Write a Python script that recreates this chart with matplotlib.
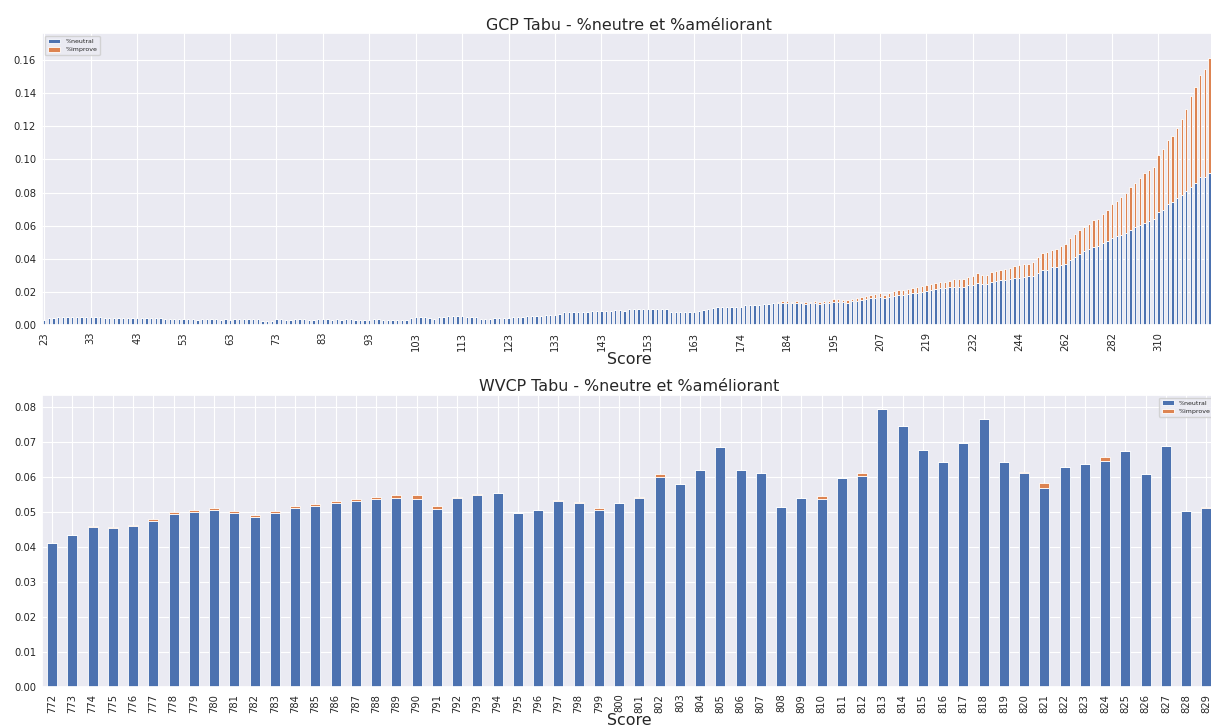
import matplotlib
matplotlib.use("Agg")
import matplotlib.pyplot as plt
import numpy as np
import seaborn as sns

# ---------------- GCP data ----------------
gcp_scores = (
    list(range(23, 164))
    + [165, 166, 167, 168, 169, 170, 171, 172, 173, 174]
    + [175, 176, 177, 178, 179, 180, 181, 182, 183, 184]
    + [185, 186, 187, 188, 189, 190, 192, 193, 194, 195]
    + [196, 197, 198, 199, 201, 202, 203, 204, 206, 207]
    + [208, 209, 210, 212, 213, 214, 215, 216, 218, 219]
    + [220, 221, 223, 224, 225, 227, 228, 229, 231, 232]
    + [233, 234, 235, 237, 238, 239, 240, 242, 243, 244]
    + [245, 247, 249, 250, 252, 254, 256, 258, 260, 262]
    + [264, 266, 268, 270, 272, 274, 276, 278, 280, 282]
    + [285, 288, 291, 294, 297, 300, 303, 305, 308, 310]
    + [313, 316, 320, 324, 328, 333, 338, 344, 350, 357, 365, 374]
)

gcp_neutral = [
    0.0028, 0.0040, 0.0045, 0.0047, 0.0048, 0.0050, 0.0049, 0.0047, 0.0047, 0.0046,
    0.0046, 0.0047, 0.0046, 0.0045, 0.0045, 0.0044, 0.0044, 0.0043, 0.0042, 0.0042,
    0.0042, 0.0043, 0.0042, 0.0041, 0.0040, 0.0041, 0.0039, 0.0039, 0.0038, 0.0036,
    0.0036, 0.0035, 0.0034, 0.0032, 0.0037, 0.0039, 0.0039, 0.0034, 0.0031, 0.0034,
    0.0028, 0.0034, 0.0039, 0.0039, 0.0037, 0.0037, 0.0037, 0.0024, 0.0024, 0.0024,
    0.0035, 0.0035, 0.0033, 0.0033, 0.0036, 0.0039, 0.0035, 0.0032, 0.0033, 0.0036,
    0.0035, 0.0034, 0.0032, 0.0034, 0.0033, 0.0036, 0.0035, 0.0031, 0.0031, 0.0032,
    0.0033, 0.0035, 0.0034, 0.0032, 0.0031, 0.0030, 0.0032, 0.0028, 0.0028, 0.0042,
    0.0050, 0.0050, 0.0050, 0.0042, 0.0036, 0.0050, 0.0050, 0.0054, 0.0052, 0.0052,
    0.0052, 0.0050, 0.0050, 0.0046, 0.0036, 0.0036, 0.0038, 0.0042, 0.0042, 0.0042,
    0.0044, 0.0048, 0.0048, 0.0046, 0.0052, 0.0056, 0.0056, 0.0056, 0.0058, 0.0062,
    0.0062, 0.0064, 0.0079, 0.0079, 0.0079, 0.0079, 0.0081, 0.0081, 0.0083, 0.0085,
    0.0085, 0.0085, 0.0083, 0.0091, 0.0091, 0.0087, 0.0095, 0.0097, 0.0097, 0.0099,
    0.0099, 0.0099, 0.0097, 0.0099, 0.0099, 0.0079, 0.0077, 0.0077, 0.0077, 0.0077,
    0.0079, 0.0085, 0.0093, 0.0095, 0.0103, 0.0107, 0.0107, 0.0109, 0.0109, 0.0109,
    0.0111, 0.0119, 0.0121, 0.0121, 0.0121, 0.0127, 0.0129, 0.0133, 0.0133, 0.0135,
    0.0133, 0.0133, 0.0130, 0.0131, 0.0129, 0.0130, 0.0131, 0.0129, 0.0130, 0.0132,
    0.0139, 0.0141, 0.0137, 0.0135, 0.0143, 0.0147, 0.0151, 0.0157, 0.0161, 0.0165,
    0.0167, 0.0163, 0.0171, 0.0177, 0.0179, 0.0181, 0.0185, 0.0193, 0.0195, 0.0201,
    0.0205, 0.0211, 0.0220, 0.0224, 0.0224, 0.0230, 0.0232, 0.0232, 0.0232, 0.0242,
    0.0244, 0.0256, 0.0250, 0.0250, 0.0262, 0.0268, 0.0270, 0.0274, 0.0278, 0.0286,
    0.0286, 0.0292, 0.0296, 0.0298, 0.0314, 0.0332, 0.0334, 0.0350, 0.0350, 0.0361,
    0.0371, 0.0393, 0.0411, 0.0429, 0.0445, 0.0459, 0.0473, 0.0475, 0.0493, 0.0510,
    0.0524, 0.0538, 0.0544, 0.0558, 0.0574, 0.0590, 0.0606, 0.0618, 0.0628, 0.0638,
    0.0683, 0.0697, 0.0731, 0.0743, 0.0765, 0.0787, 0.0810, 0.0832, 0.0856, 0.0892,
    0.0896, 0.0916, 0.0935,
]

gcp_improve = [0.0] * 158 + [
    0.0005, 0.0008, 0.0010, 0.0008,
    0.0012, 0.0010, 0.0012, 0.0011, 0.0013, 0.0012, 0.0014, 0.0012,
    0.0016, 0.0016, 0.0016, 0.0016, 0.0016, 0.0016, 0.0018, 0.0020, 0.0020, 0.0022,
    0.0024, 0.0018, 0.0024, 0.0028, 0.0030, 0.0030, 0.0033, 0.0029, 0.0033, 0.0035,
    0.0035, 0.0037, 0.0036, 0.0036, 0.0036, 0.0036, 0.0044, 0.0044, 0.0046, 0.0046,
    0.0052, 0.0056, 0.0054, 0.0054, 0.0056, 0.0060, 0.0062, 0.0064, 0.0066, 0.0070,
    0.0074, 0.0077, 0.0073, 0.0083, 0.0095, 0.0101, 0.0107, 0.0103, 0.0109, 0.0114,
    0.0118, 0.0131, 0.0141, 0.0143, 0.0149, 0.0151, 0.0163, 0.0163, 0.0178, 0.0187,
    0.0205, 0.0209, 0.0227, 0.0238, 0.0260, 0.0270, 0.0280, 0.0298, 0.0309, 0.0317,
    0.0342, 0.0364, 0.0387, 0.0399, 0.0425, 0.0458, 0.0495, 0.0550, 0.0584, 0.0619,
    0.0649, 0.0695, 0.0745,
]

# every 10th category gets a visible tick label (up to 310)
gcp_tick_step = 10
gcp_tick_last = 240

# ---------------- WVCP data ----------------
wvcp_scores = list(range(772, 830))
wvcp_neutral = [
    0.0410, 0.0433, 0.0458, 0.0454, 0.0461, 0.0475, 0.0495, 0.0500, 0.0507, 0.0498,
    0.0486, 0.0498, 0.0513, 0.0516, 0.0525, 0.0531, 0.0537, 0.0539, 0.0537, 0.0509,
    0.0540, 0.0548, 0.0554, 0.0498, 0.0506, 0.0532, 0.0525, 0.0507, 0.0525, 0.0541,
    0.0601, 0.0581, 0.0621, 0.0686, 0.0619, 0.0612, 0.0514, 0.0541, 0.0538, 0.0598,
    0.0602, 0.0794, 0.0746, 0.0677, 0.0642, 0.0697, 0.0766, 0.0642, 0.0612, 0.0569,
    0.0630, 0.0638, 0.0647, 0.0674, 0.0608, 0.0688, 0.0504, 0.0511,
]
wvcp_improve = [
    0.0000, 0.0001, 0.0002, 0.0003, 0.0001, 0.0004, 0.0004, 0.0006, 0.0006, 0.0004,
    0.0005, 0.0004, 0.0004, 0.0006, 0.0006, 0.0007, 0.0006, 0.0010, 0.0012, 0.0008,
    0.0003, 0.0004, 0.0000, 0.0000, 0.0000, 0.0002, 0.0005, 0.0005, 0.0002, 0.0002,
    0.0007, 0.0000, 0.0000, 0.0000, 0.0000, 0.0000, 0.0000, 0.0000, 0.0008, 0.0000,
    0.0010, 0.0000, 0.0000, 0.0000, 0.0000, 0.0000, 0.0000, 0.0000, 0.0003, 0.0013,
    0.0000, 0.0000, 0.0011, 0.0000, 0.0000, 0.0000, 0.0000, 0.0004,
]

series_labels = ["%neutral", "%improve"]
titles = ["GCP Tabu - %neutre et %améliorant", "WVCP Tabu - %neutre et %améliorant"]

# ---------------- style ----------------
sns.set_theme(style="darkgrid")
plt.rcParams["font.family"] = ["DejaVu Sans"]
blue = "#4C72B0"
orange = "#DD8452"
text_color = "#262626"

W, H = 1211, 727
fig = plt.figure(figsize=(W / 100, H / 100), dpi=100)

left_px, right_px = 42.0, 1216.5
ax1 = fig.add_axes([left_px / W, 1 - 325.0 / H, (right_px - left_px) / W, (325.0 - 33.0) / H])
ax2 = fig.add_axes([left_px / W, 1 - 686.7 / H, (right_px - left_px) / W, (686.7 - 394.7) / H])


def stacked(ax, scores, neutral, improve):
    x = np.arange(len(scores))
    neutral = np.asarray(neutral)
    improve = np.asarray(improve)
    ax.bar(x, neutral, width=0.5, color=blue, edgecolor="white", linewidth=0.6,
           label=series_labels[0])
    ax.bar(x, improve, bottom=neutral, width=0.5, color=orange, edgecolor="white",
           linewidth=0.6, label=series_labels[1])
    ax.set_xlim(-0.5, len(scores) - 0.5)
    return x


# top chart
x1 = stacked(ax1, gcp_scores, gcp_neutral, gcp_improve)
tick_idx = list(range(0, gcp_tick_last + 1, gcp_tick_step))
ax1.set_xticks(tick_idx)
ax1.set_xticklabels([str(gcp_scores[i]) for i in tick_idx], rotation=90)
ax1.set_ylim(0, 0.1764)
yt1 = np.arange(0, 0.17, 0.02)
ax1.set_yticks(yt1)
ax1.set_yticklabels([f"{v:.2f}" for v in yt1])
ax1.set_title(titles[0], fontsize=11.4, color=text_color, pad=2.5)
ax1.set_xlabel("Score", fontsize=11.4, color=text_color, labelpad=1)
ax1.legend(loc="upper left", fontsize=4.5, frameon=True, handlelength=2.0)

# bottom chart
x2 = stacked(ax2, wvcp_scores, wvcp_neutral, wvcp_improve)
ax2.set_xticks(x2)
ax2.set_xticklabels([str(s) for s in wvcp_scores], rotation=90)
ax2.set_ylim(0, 0.0836)
yt = np.arange(0, 0.081, 0.01)
ax2.set_yticks(yt)
ax2.set_yticklabels([f"{v:.2f}" for v in yt])
ax2.set_title(titles[1], fontsize=11.4, color=text_color, pad=2.5)
ax2.set_xlabel("Score", fontsize=11.4, color=text_color, labelpad=0)
ax2.legend(loc="upper right", fontsize=4.5, frameon=True, handlelength=2.0)

for ax in (ax1, ax2):
    ax.tick_params(axis="both", labelsize=7.2, colors=text_color, length=0)
    ax.tick_params(axis="y", pad=4.3)
    ax.tick_params(axis="x", pad=5.0)
    ax.grid(True, color="white", linewidth=0.8)
    ax.set_axisbelow(True)

fig.savefig("out.png", dpi=100)
